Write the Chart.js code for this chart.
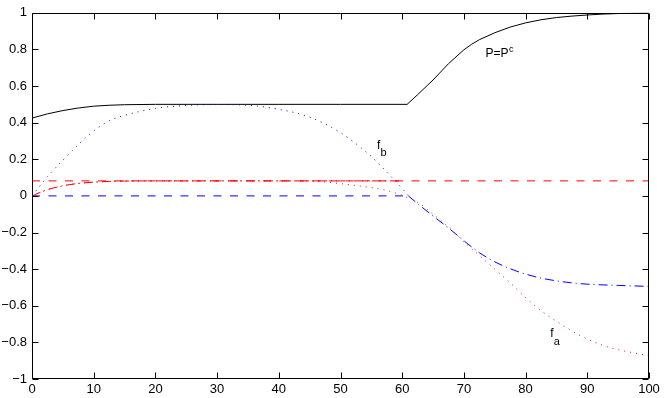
<!DOCTYPE html>
<html>
<head>
<meta charset="utf-8">
<script src="https://cdn.jsdelivr.net/npm/chart.js@4"></script>
<style>
  html, body { margin: 0; padding: 0; background: #fff; }
  canvas { display: block; }
</style>
</head>
<body>
<canvas id="chart" width="664" height="398"></canvas>
<script>
// P = P^c (black solid)
const pX = [0, 2.5, 5, 7.5, 10, 12.5, 15, 20, 30, 40, 50, 60.8, 62.5, 65, 67.5, 70, 71.25, 72.5, 75, 77.5, 80, 82.5, 85, 87.5, 90, 92.5, 95, 97.5, 100];
const pY = [0.425, 0.448, 0.466, 0.48, 0.49, 0.495, 0.498, 0.5, 0.5, 0.5, 0.5, 0.5, 0.553, 0.633, 0.722, 0.798, 0.828, 0.853, 0.891, 0.922, 0.945, 0.962, 0.974, 0.982, 0.988, 0.993, 0.996, 0.998, 1.0];

// f_b (blue dotted)
const fbX = [0, 2.5, 5, 7.5, 10, 12.5, 15, 20, 25, 30, 35, 40, 45, 50, 55, 57.5, 60, 61];
const fbY = [0, 0.105, 0.195, 0.28, 0.355, 0.41, 0.44, 0.478, 0.494, 0.499, 0.495, 0.473, 0.43, 0.345, 0.215, 0.13, 0.04, 0];

// f_a (red dotted)
const faX = [0, 2.5, 5, 7.5, 10, 12.5, 15, 20, 30, 40, 45, 47.5, 50, 52.5, 55, 57.5, 60, 62.5, 65, 67.5, 70, 72.5, 75, 77.5, 80, 82.5, 85, 87.5, 90, 92.5, 95, 97.5, 100];
const faY = [0, 0.034, 0.055, 0.068, 0.075, 0.079, 0.081, 0.082, 0.082, 0.082, 0.081, 0.077, 0.067, 0.057, 0.045, 0.03, 0.002, -0.035, -0.1, -0.17, -0.25, -0.325, -0.4, -0.475, -0.555, -0.627, -0.685, -0.738, -0.782, -0.816, -0.84, -0.857, -0.872];

// red dash-dot
const raX = [0, 2.5, 5, 7.5, 10, 12.5, 15, 20, 30, 40, 50, 60];
const raY = [0, 0.034, 0.055, 0.068, 0.075, 0.079, 0.081, 0.082, 0.082, 0.082, 0.082, 0.082];

// red dashed (constant)
const rdX = [0, 100];
const rdY = [0.082, 0.082];

// blue dashed (zero)
const bdX = [0, 61];
const bdY = [0, 0];

// blue dash-dot
const bbX = [61, 62.5, 65, 67.5, 70, 72.5, 75, 77.5, 80, 82.5, 85, 87.5, 90, 95, 100];
const bbY = [0, -0.042, -0.11, -0.175, -0.245, -0.31, -0.36, -0.398, -0.427, -0.449, -0.464, -0.475, -0.482, -0.489, -0.494];

const xTicks = [0, 10, 20, 30, 40, 50, 60, 70, 80, 90, 100];
const yTicks = [-1, -0.8, -0.6, -0.4, -0.2, 0, 0.2, 0.4, 0.6, 0.8, 1];

function pts(xs, ys) {
  return xs.map((x, i) => ({ x: x, y: ys[i] }));
}

function series(xs, ys, color, dash, smooth) {
  return {
    data: pts(xs, ys),
    borderColor: color,
    borderWidth: 1,
    borderDash: dash,
    pointRadius: 0,
    fill: false,
    tension: smooth ? 0.4 : 0,
    cubicInterpolationMode: smooth ? 'monotone' : 'default'
  };
}

const FONT = '"Liberation Sans", Arial, Helvetica, sans-serif';

// box with inward ticks on all sides, plus curve labels
const frame = {
  id: 'frame',
  afterDraw(chart) {
    const ctx = chart.ctx;
    const a = chart.chartArea;
    const xs = chart.scales.x, ys = chart.scales.y;
    const L = Math.round(a.left) + 0.5, R = Math.round(a.right) - 0.5;
    const T = Math.round(a.top) + 0.5, B = Math.round(a.bottom) - 0.5;
    ctx.save();
    ctx.strokeStyle = '#000';
    ctx.lineWidth = 1;
    ctx.beginPath();
    ctx.rect(L, T, R - L, B - T);
    xTicks.forEach(v => {
      const px = Math.round(xs.getPixelForValue(v)) + 0.5;
      ctx.moveTo(px, B); ctx.lineTo(px, B - 6);
      ctx.moveTo(px, T); ctx.lineTo(px, T + 6);
    });
    yTicks.forEach(v => {
      const py = Math.round(ys.getPixelForValue(v)) + 0.5;
      ctx.moveTo(L, py); ctx.lineTo(L + 6, py);
      ctx.moveTo(R, py); ctx.lineTo(R - 6, py);
    });
    ctx.stroke();

    ctx.fillStyle = '#000';
    ctx.textBaseline = 'alphabetic';
    ctx.textAlign = 'left';
    const at = (x, y) => [xs.getPixelForValue(x), ys.getPixelForValue(y)];
    let [x1, y1] = at(73.5, 0.756);
    ctx.font = '12px ' + FONT;
    ctx.fillText('P=P', x1, y1);
    const w = ctx.measureText('P=P').width;
    ctx.font = '9px ' + FONT;
    ctx.fillText('c', x1 + w + 0.5, y1 - 5);

    let [x2, y2] = at(55.9, 0.258);
    ctx.font = '12px ' + FONT;
    ctx.fillText('f', x2, y2);
    ctx.font = '11px ' + FONT;
    ctx.fillText('b', x2 + 3.5, y2 + 7);

    let [x3, y3] = at(84.0, -0.772);
    ctx.font = '12px ' + FONT;
    ctx.fillText('f', x3, y3);
    ctx.font = '11px ' + FONT;
    ctx.fillText('a', x3 + 3.5, y3 + 8);
    ctx.restore();
  }
};

const fmt = v => {
  const r = Math.round(v * 10) / 10;
  return (r < 0 ? '\u2212' : '') + String(Math.abs(r));
};

new Chart(document.getElementById('chart'), {
  type: 'line',
  data: {
    datasets: [
      series(rdX, rdY, 'rgb(255,0,0)', [8, 8.5], false),
      series(raX, raY, 'rgb(255,0,0)', [9, 4, 1, 4], true),
      series(faX, faY, 'rgb(255,0,0)', [1, 5], true),
      series(bdX, bdY, 'rgb(0,0,255)', [8, 8.5], false),
      series(bbX, bbY, 'rgb(0,0,255)', [9, 4, 1, 4], true),
      series(fbX, fbY, 'rgb(0,0,255)', [1, 5], true),
      series(pX, pY, '#000', [], false)
    ]
  },
  options: {
    responsive: false,
    animation: false,
    layout: { padding: { top: 12, right: 15, left: 0, bottom: 0 } },
    plugins: { legend: { display: false }, tooltip: { enabled: false } },
    scales: {
      x: {
        type: 'linear',
        min: 0, max: 100,
        afterFit: s => { s.height = 19; },
        afterBuildTicks: s => { s.ticks = xTicks.map(v => ({ value: v })); },
        grid: { display: false, drawTicks: false },
        border: { display: false },
        ticks: { color: '#000', padding: 3, maxRotation: 0, font: { family: FONT, size: 13 } }
      },
      y: {
        type: 'linear',
        min: -1, max: 1,
        afterFit: s => { s.width = 32; },
        afterBuildTicks: s => { s.ticks = yTicks.map(v => ({ value: v })); },
        grid: { display: false, drawTicks: false },
        border: { display: false },
        ticks: { color: '#000', padding: 5, callback: fmt, font: { family: FONT, size: 13 } }
      }
    }
  },
  plugins: [frame]
});
</script>
</body>
</html>
